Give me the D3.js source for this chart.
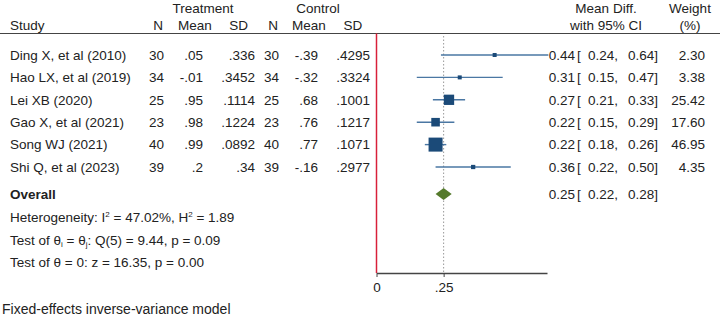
<!DOCTYPE html>
<html>
<head>
<meta charset="utf-8">
<script src="https://cdn.jsdelivr.net/npm/d3@7"></script>
<style>
  body { margin: 0; background: #fff; }
  svg { display: block; font-family: "Liberation Sans", Arial, sans-serif; font-size: 13.5px; fill: #222; }
</style>
</head>
<body>
<div id="chart"></div>
<script>
// Study-level data
const studies = ["Ding X,  et al (2010)", "Hao LX,  et al (2019)", "Lei XB (2020)", "Gao X,  et al (2021)", "Song WJ (2021)", "Shi Q, et al (2023)"];
const treatN = ["30", "34", "25", "23", "40", "39"];
const treatMean = [".05", "-.01", ".95", ".98", ".99", ".2"];
const treatSD = [".336", ".3452", ".1114", ".1224", ".0892", ".34"];
const ctrlN = ["30", "34", "25", "23", "40", "39"];
const ctrlMean = ["-.39", "-.32", ".68", ".76", ".77", "-.16"];
const ctrlSD = [".4295", ".3324", ".1001", ".1217", ".1071", ".2977"];
const md = [0.44, 0.31, 0.27, 0.22, 0.22, 0.36];
const ciLow = [0.24, 0.15, 0.21, 0.15, 0.18, 0.22];
const ciHigh = [0.64, 0.47, 0.33, 0.29, 0.26, 0.50];
const weights = [2.30, 3.38, 25.42, 17.60, 46.95, 4.35];
const overall = { md: 0.25, lo: 0.22, hi: 0.28 };
const xTicks = [0, 0.25];
const xTickLabels = ["0", ".25"];

const W = 720, H = 317;
const svg = d3.select("#chart").append("svg").attr("width", W).attr("height", H);

// Scales
const x = d3.scaleLinear().domain([0, 0.635]).range([376.5, 547]);
const rowY = d3.scaleLinear().domain([0, 1]).range([55, 77.4]);
const size = d3.scaleSqrt().domain([0, 46.95]).range([0, 14]);
const axisY = 273;
const overallY = rowY(6.2);

const sqColor = "#1b4a78", lineColor = "#4a77a3";

// Header
const hdr = svg.append("g");
function htext(t, xx, yy, anchor) {
  hdr.append("text").attr("x", xx).attr("y", yy).attr("text-anchor", anchor).text(t);
}
htext("Treatment", 203, 12.5, "middle");
htext("Control", 318, 12.5, "middle");
htext("Mean Diff.", 606, 12.5, "middle");
htext("Weight", 690, 12.5, "middle");
htext("Study", 10, 30, "start");
htext("N", 163, 30, "end");
htext("Mean", 195, 30, "middle");
htext("SD", 248, 30, "end");
htext("N", 278, 30, "end");
htext("Mean", 309, 30, "middle");
htext("SD", 353, 30, "middle");
htext("with 95% CI", 606, 30, "middle");
htext("(%)", 690, 30, "middle");

svg.append("line")
  .attr("x1", 0).attr("x2", W).attr("y1", 33.5).attr("y2", 33.5)
  .attr("stroke", "#444").attr("stroke-width", 1.2);

// Reference lines
svg.append("line")
  .attr("x1", x(overall.md)).attr("x2", x(overall.md))
  .attr("y1", 36).attr("y2", axisY)
  .attr("stroke", "#999").attr("stroke-width", 1).attr("stroke-dasharray", "1.5,2");

svg.append("line")
  .attr("x1", x(0)).attr("x2", x(0))
  .attr("y1", 33.5).attr("y2", axisY)
  .attr("stroke", "#d8203a").attr("stroke-width", 1.5);

// Table columns
const cols = [
  { vals: treatN, x: 164 },
  { vals: treatMean, x: 203 },
  { vals: treatSD, x: 255 },
  { vals: ctrlN, x: 279 },
  { vals: ctrlMean, x: 318 },
  { vals: ctrlSD, x: 370 }
];

const rows = svg.selectAll(".row").data(studies).enter().append("g").attr("class", "row");
rows.append("text").attr("x", 10).attr("y", (d, i) => rowY(i) + 4.8).text(d => d);
cols.forEach(c => {
  rows.append("text").attr("x", c.x).attr("y", (d, i) => rowY(i) + 4.8)
    .attr("text-anchor", "end").text((d, i) => c.vals[i]);
});

// CI lines and squares
rows.append("line")
  .attr("x1", (d, i) => x(ciLow[i])).attr("x2", (d, i) => x(ciHigh[i]))
  .attr("y1", (d, i) => rowY(i)).attr("y2", (d, i) => rowY(i))
  .attr("stroke", lineColor).attr("stroke-width", 1.4);
rows.append("rect")
  .attr("x", (d, i) => x(md[i]) - Math.max(4, size(weights[i])) / 2)
  .attr("y", (d, i) => rowY(i) - Math.max(4, size(weights[i])) / 2)
  .attr("width", (d, i) => Math.max(4, size(weights[i])))
  .attr("height", (d, i) => Math.max(4, size(weights[i])))
  .attr("fill", sqColor);

// Effect text
const f2 = d3.format(".2f");
function effectText(g, yFn, m, lo, hi) {
  g.append("text").attr("x", 575).attr("y", yFn).attr("text-anchor", "end").text(m);
  g.append("text").attr("x", 577).attr("y", yFn).text("[");
  g.append("text").attr("x", 618).attr("y", yFn).attr("text-anchor", "end").text(lo);
  g.append("text").attr("x", 658).attr("y", yFn).attr("text-anchor", "end").text(hi);
}
effectText(rows, (d, i) => rowY(i) + 4.8, (d, i) => f2(md[i]), (d, i) => f2(ciLow[i]) + ",", (d, i) => f2(ciHigh[i]) + "]");
rows.append("text").attr("x", 705).attr("y", (d, i) => rowY(i) + 4.8).attr("text-anchor", "end").text((d, i) => f2(weights[i]));

// Overall
svg.append("text").attr("x", 10).attr("y", overallY + 4.8).attr("font-weight", "bold").text("Overall");
svg.append("path")
  .attr("d", `M${x(overall.lo)},${overallY} L${x(overall.md)},${overallY - 6} L${x(overall.hi)},${overallY} L${x(overall.md)},${overallY + 6} Z`)
  .attr("fill", "#557a2c");
effectText(svg.append("g"), overallY + 4.8, f2(overall.md), f2(overall.lo) + ",", f2(overall.hi) + "]");

// Statistics
const het = svg.append("text").attr("x", 10).attr("y", 221.8);
het.append("tspan").text("Heterogeneity: I");
het.append("tspan").attr("font-size", "8px").attr("dy", -5).text("2");
het.append("tspan").attr("dy", 5).text(" = 47.02%, H");
het.append("tspan").attr("font-size", "8px").attr("dy", -5).text("2");
het.append("tspan").attr("dy", 5).text(" = 1.89");

const q = svg.append("text").attr("x", 10).attr("y", 244.8);
q.append("tspan").text("Test of θ");
q.append("tspan").attr("font-size", "8px").attr("dy", 2).text("i");
q.append("tspan").attr("dy", -2).text(" = θ");
q.append("tspan").attr("font-size", "8px").attr("dy", 2).text("j");
q.append("tspan").attr("dy", -2).text(": Q(5) = 9.44, p = 0.09");

svg.append("text").attr("x", 10).attr("y", 266.8).text("Test of θ = 0: z = 16.35, p = 0.00");

// Axis
const axis = d3.axisBottom(x).tickValues(xTicks).tickFormat((d, i) => xTickLabels[i]).tickSize(4).tickSizeOuter(0);
const ag = svg.append("g").attr("transform", `translate(0,${axisY})`).call(axis);
ag.select(".domain").attr("stroke", "#444").attr("stroke-width", 1.3);
ag.selectAll(".tick line").attr("stroke", "#444");
ag.selectAll(".tick text").attr("font-family", "Liberation Sans, Arial, sans-serif").attr("font-size", "13.5px").attr("fill", "#222").attr("dy", "0.9em");

svg.append("text").attr("x", 2).attr("y", 313.8).attr("font-size", "14px").text("Fixed-effects inverse-variance model");
</script>
</body>
</html>
